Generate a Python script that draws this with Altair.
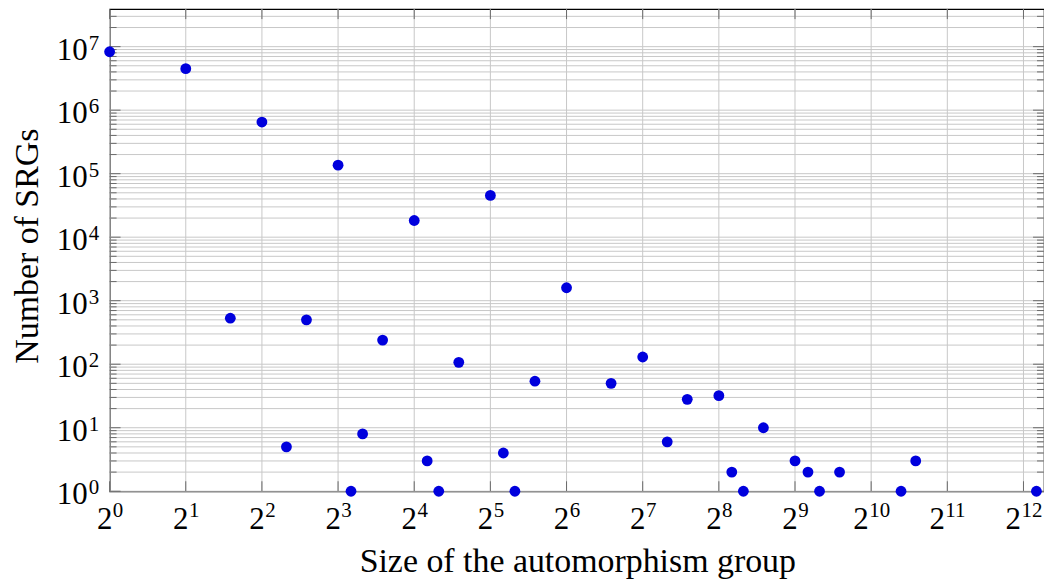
import altair as alt
import pandas as pd

# ---- data ----
group_size = [1, 2, 3, 4, 5, 6, 8, 9, 10, 12, 16, 18, 20, 24, 32, 36, 40, 48, 64, 96,
              128, 160, 192, 256, 288, 320, 384, 512, 576, 640, 768, 1344, 1536, 4608]
num_srgs = [8300000, 4500000, 530, 650000, 5, 500, 136000, 1, 8, 240,
            18300, 3, 1, 107, 45500, 4, 1, 54, 1600, 50,
            130, 6, 28, 32, 2, 1, 10, 3, 2, 1,
            2, 1, 3, 1]

x_exponents = list(range(0, 13))      # tick labels 2^0 .. 2^12
y_exponents = list(range(0, 8))       # tick labels 10^0 .. 10^7
y_minor_mult = [2, 3, 4, 5, 6, 7, 8, 9]
x_title = "Size of the automorphism group"
y_title = "Number of SRGs"

# ---- styling ----
W, H = 938, 484
FONT = "Liberation Serif"
BLUE = "#0000dd"
GRID = "#c8c8c8"
TICK = "#6a6a6a"
X_MAX = 4937
Y_MAX = 3.9e7

df = pd.DataFrame({"size": group_size, "count": num_srgs})
xt = pd.DataFrame({"v": [2 ** k for k in x_exponents],
                   "base": ["2"] * len(x_exponents),
                   "e": [str(k) for k in x_exponents],
                   "nd": [len(str(k)) for k in x_exponents]})
yt = pd.DataFrame({"v": [10 ** k for k in y_exponents],
                   "base": ["10"] * len(y_exponents),
                   "e": [str(k) for k in y_exponents]})
ym = pd.DataFrame({"v": [m * 10 ** k for k in y_exponents for m in y_minor_mult
                         if m * 10 ** k < Y_MAX]})
titles = pd.DataFrame({"t": [x_title, y_title]})

xscale = alt.Scale(type="log", base=2, domain=[1, X_MAX], nice=False)
yscale = alt.Scale(type="log", base=10, domain=[1, Y_MAX], nice=False)


def xf(field="v"):
    return alt.X(f"{field}:Q", scale=xscale, axis=None)


def yf(field="v"):
    return alt.Y(f"{field}:Q", scale=yscale, axis=None)


layers = []
# grid
layers.append(alt.Chart(xt).mark_rule(color=GRID, strokeWidth=1).encode(
    x=xf(), y=alt.value(0), y2=alt.value(H)))
layers.append(alt.Chart(ym).mark_rule(color=GRID, strokeWidth=1).encode(
    y=yf(), x=alt.value(0), x2=alt.value(W)))
layers.append(alt.Chart(yt).mark_rule(color=GRID, strokeWidth=1).encode(
    y=yf(), x=alt.value(0), x2=alt.value(W)))
# ticks (inward, on all four sides)
layers.append(alt.Chart(xt).mark_rule(color=TICK, strokeWidth=1).encode(
    x=xf(), y=alt.value(H), y2=alt.value(H - 10)))
layers.append(alt.Chart(xt).mark_rule(color=TICK, strokeWidth=1).encode(
    x=xf(), y=alt.value(0), y2=alt.value(10)))
layers.append(alt.Chart(yt).mark_rule(color=TICK, strokeWidth=1).encode(
    y=yf(), x=alt.value(0), x2=alt.value(11)))
layers.append(alt.Chart(yt).mark_rule(color=TICK, strokeWidth=1).encode(
    y=yf(), x=alt.value(W - 11), x2=alt.value(W)))
layers.append(alt.Chart(ym).mark_rule(color=TICK, strokeWidth=1).encode(
    y=yf(), x=alt.value(0), x2=alt.value(7)))
layers.append(alt.Chart(ym).mark_rule(color=TICK, strokeWidth=1).encode(
    y=yf(), x=alt.value(W - 7), x2=alt.value(W)))

# points
layers.append(alt.Chart(df).mark_circle(size=118, color=BLUE, opacity=1).encode(
    x=xf("size"), y=yf("count")))

# x tick labels 2^k (base + superscript)
for nd, off in [(1, 2.75), (2, -2.5)]:
    sub = xt[xt["nd"] == nd]
    layers.append(alt.Chart(sub).mark_text(
        align="right", baseline="alphabetic", dx=off, font=FONT, fontSize=31, color="black"
    ).encode(x=xf(), y=alt.value(H + 38), text="base:N"))
    layers.append(alt.Chart(sub).mark_text(
        align="left", baseline="alphabetic", dx=off + 0.5, font=FONT, fontSize=21, color="black"
    ).encode(x=xf(), y=alt.value(H + 26), text="e:N"))

# y tick labels 10^k
layers.append(alt.Chart(yt).mark_text(
    align="right", baseline="alphabetic", dy=13, font=FONT, fontSize=31, color="black"
).encode(y=yf(), x=alt.value(-22), text="base:N"))
layers.append(alt.Chart(yt).mark_text(
    align="left", baseline="alphabetic", dy=3, font=FONT, fontSize=21, color="black"
).encode(y=yf(), x=alt.value(-21), text="e:N"))

# axis titles
layers.append(alt.Chart(titles).transform_filter(alt.datum.t == x_title).mark_text(
    align="center", baseline="alphabetic", font=FONT, fontSize=34, color="black"
).encode(x=alt.value(W / 2 + 1), y=alt.value(H + 81), text="t:N"))
layers.append(alt.Chart(titles).transform_filter(alt.datum.t == y_title).mark_text(
    align="center", baseline="alphabetic", angle=270, font=FONT, fontSize=34, color="black"
).encode(x=alt.value(-72), y=alt.value(H / 2 - 4), text="t:N"))

chart = alt.layer(*layers).properties(
    width=W, height=H,
    padding={"left": 102, "top": 0, "right": 0, "bottom": 90},
    autosize=alt.AutoSizeParams(type="none"),
    background="white",
).configure_view(stroke="black", strokeWidth=1.2)

chart.save("out.html", embed_options={"renderer": "svg", "actions": False})
